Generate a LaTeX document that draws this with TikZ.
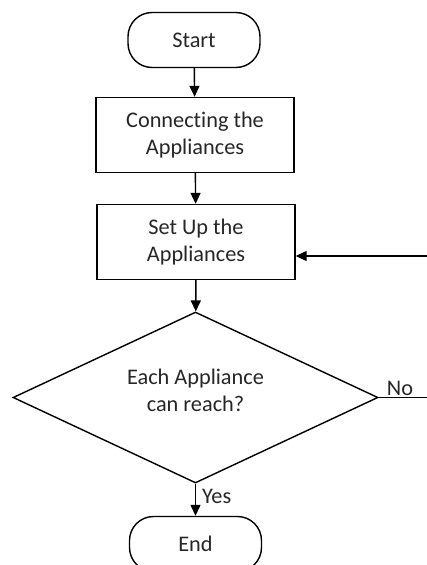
\documentclass[tikz,border=0pt]{standalone}
\usepackage{fontspec}
\setmainfont{Carlito}[Ligatures=NoCommon]
\usetikzlibrary{shapes.geometric, arrows.meta}

\begin{document}
\begin{tikzpicture}[x=1pt, y=-1pt, line width=1.4pt,
    every node/.style={font=\fontsize{22.3}{27}\selectfont, align=center, text=black!85},
    terminal/.style={draw, rounded corners=24pt, minimum width=132pt, minimum height=55pt},
    process/.style={draw, minimum width=198pt, minimum height=75pt, inner sep=0pt},
    decision/.style={draw, diamond, aspect=2.13, minimum width=365pt, minimum height=171pt,
        inner sep=0pt, text depth=15pt},
    flow/.style={-{Triangle[width=10pt, length=11pt]}}]
    % Page frame (the loop back runs off the right edge)
    \useasboundingbox (0,0) rectangle (427,565);
    \clip (0,0) rectangle (427,565);

    % Boxes
    \node[terminal] (start) at (194, 40) {Start};
    \node[process] (connect) at (195, 135) {Connecting the\\Appliances};
    \node[process] (setup) at (196, 242) {Set Up the\\Appliances};
    \node[decision] (reach) at (195.5, 397.5) {Each Appliance\\can reach?};
    \node[terminal] (end) at (195.5, 544) {End};

    % Arrows down the chart
    \draw[flow] (start) -- (connect);
    \draw[flow] (connect) -- (setup);
    \draw[flow] (setup) -- (reach);
    \draw[flow] (reach) -- node[right, inner sep=6pt, pos=0.4] {Yes} (end);

    % Loop back when not reached
    \draw[flow] (reach.east) -- node[above, pos=0.4, inner sep=1pt] {No} (432, 397.5)
        |- ([yshift=-14pt]setup.east);
\end{tikzpicture}
\end{document}
